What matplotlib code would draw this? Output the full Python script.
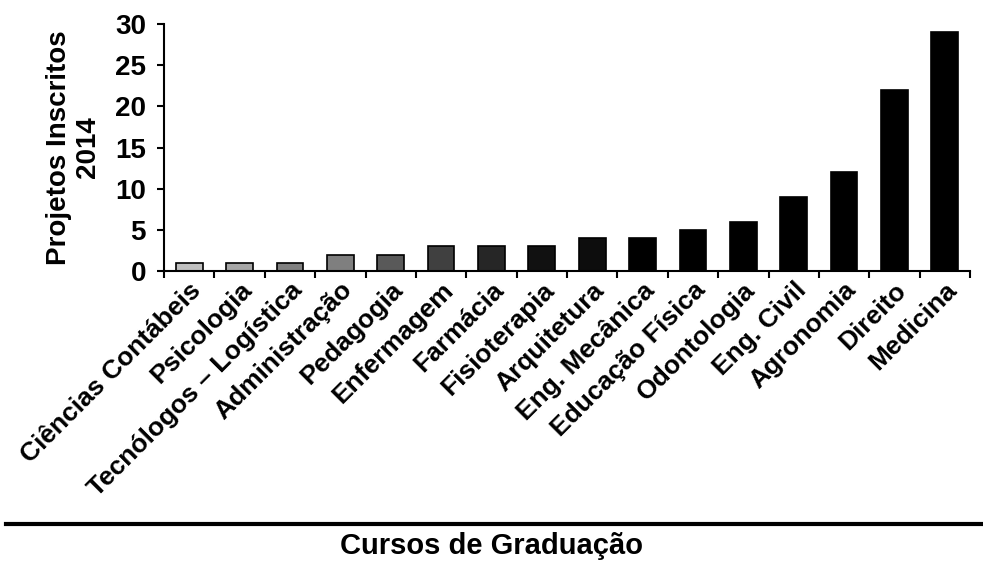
import matplotlib
matplotlib.use("Agg")
import matplotlib.pyplot as plt
from matplotlib.lines import Line2D

categories = ["Ciências Contábeis", "Psicologia", "Tecnólogos – Logística", "Administração",
              "Pedagogia", "Enfermagem", "Farmácia", "Fisioterapia", "Arquitetura",
              "Eng. Mecânica", "Educação Física", "Odontologia", "Eng. Civil", "Agronomia",
              "Direito", "Medicina"]
values = [1, 1, 1, 2, 2, 3, 3, 3, 4, 4, 5, 6, 9, 12, 22, 29]
colors = ["#c0c0c0", "#a6a6a6", "#808080", "#7f7f7f", "#595959", "#404040", "#262626",
          "#111111", "#0d0d0d", "#000000", "#000000", "#000000", "#000000", "#000000",
          "#000000", "#000000"]
yticks = [0, 5, 10, 15, 20, 25, 30]

plt.rcParams['font.family'] = ['Liberation Sans', 'DejaVu Sans']
plt.rcParams['font.weight'] = 'bold'

fig = plt.figure(figsize=(9.83, 5.62), dpi=100)
ax = fig.add_axes([164/983, 1 - 271/562, (970 - 164)/983, (271 - 24)/562])
x = list(range(len(categories)))
ax.bar(x, values, width=0.53, color=colors, edgecolor="black", linewidth=1.2)
ax.set_xlim(-0.5, len(categories) - 0.5)
ax.set_ylim(0, 30)
ax.set_yticks(yticks)
ax.set_yticklabels([str(v) for v in yticks], fontsize=20, fontweight='bold')
ax.set_xticks([i - 0.5 for i in x] + [len(x) - 0.5])
ax.set_xticklabels([])
ax.set_xticks(x, minor=True)
ax.set_xticklabels(categories, minor=True, rotation=45, ha='right', va='top',
                   rotation_mode='anchor', fontsize=19, fontweight='bold')
ax.tick_params(axis='x', which='minor', length=0, pad=5)
ax.tick_params(axis='x', which='major', length=5, width=1.5)
ax.tick_params(axis='y', length=5, width=1.5, pad=8)
for s in ['top', 'right']:
    ax.spines[s].set_visible(False)
for s in ['left', 'bottom']:
    ax.spines[s].set_linewidth(1.5)
ax.set_ylabel("Projetos Inscritos\n2014", fontsize=20, fontweight='bold', labelpad=10,
              linespacing=1.15)

fig.add_artist(Line2D([0.006, 1.0], [1 - 524/562, 1 - 524/562], color='black', linewidth=3,
                      transform=fig.transFigure))
fig.text(0.5, 1 - 546/562, "Cursos de Graduação", ha='center', va='center', fontsize=21,
         fontweight='bold')

fig.savefig("out.png", dpi=100)
